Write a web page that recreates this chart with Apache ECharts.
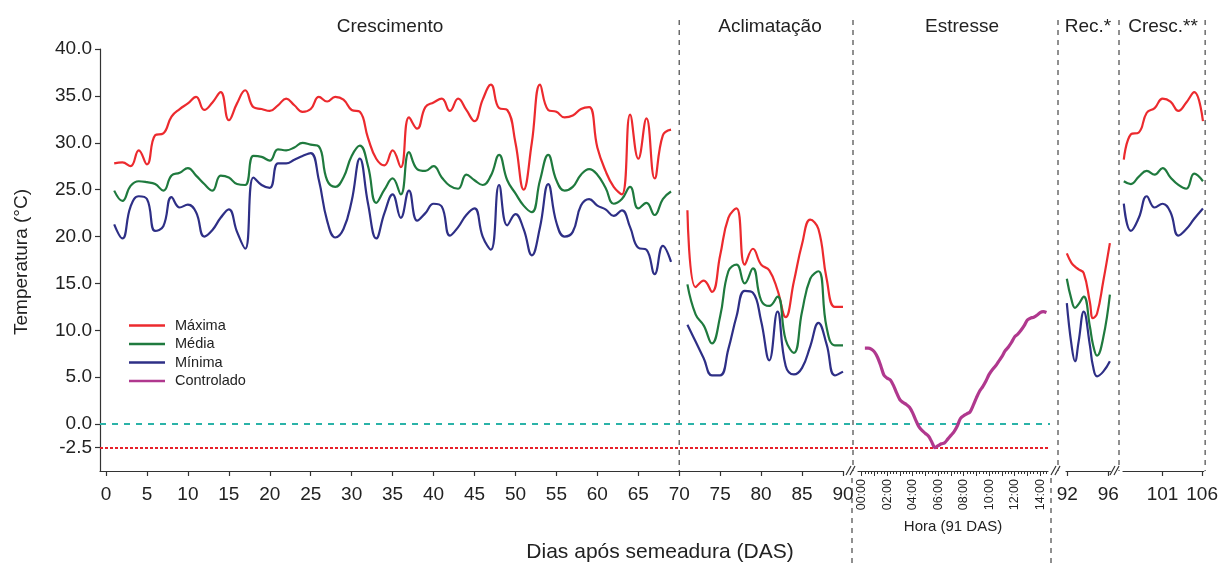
<!DOCTYPE html>
<html><head><meta charset="utf-8">
<script src="https://cdn.jsdelivr.net/npm/echarts@6/dist/echarts.min.js"></script>
<style>html,body{margin:0;padding:0;background:#fff}#c{width:1221px;height:569px}</style>
</head><body><div id="c"></div>
<script>
const FONT = '"Liberation Sans", Arial, Helvetica, sans-serif';

// ---------------- DATA ----------------
// Crescimento (days 1..69)
const cresDays = Array.from({length: 69}, (_, i) => i + 1);
const maxCres = [27.8,27.9,27.5,29.2,27.7,30.8,31.0,32.8,33.6,34.2,
                 34.9,33.5,34.3,35.4,32.4,34.2,35.6,33.8,33.6,33.4,
                 34.0,34.7,34.0,33.3,33.6,34.9,34.4,34.9,34.6,33.5,
                 33.3,30.5,28.3,27.6,29.2,27.4,32.7,31.5,33.8,34.3,
                 34.7,33.4,34.7,33.5,32.3,34.6,36.2,33.7,33.5,30.0,
                 25.0,30.0,36.2,33.5,33.3,32.7,32.9,33.6,33.8,29.5,
                 27.0,25.3,24.5,33.0,28.3,32.6,26.2,30.8,31.4];
const medCres = [24.9,23.8,25.4,25.9,25.8,25.6,24.9,26.5,26.8,27.3,
                 26.5,25.6,24.9,26.5,26.3,25.6,25.5,28.6,28.5,28.1,
                 29.3,29.2,29.5,30.0,29.8,29.6,26.0,25.3,26.3,28.6,
                 29.7,27.5,23.6,25.0,26.2,24.5,29.0,27.2,27.0,27.5,
                 26.3,25.4,25.1,26.6,26.0,25.5,26.5,28.7,26.0,24.6,
                 23.3,22.6,26.0,28.7,26.0,24.9,25.3,26.6,27.2,26.6,
                 25.2,23.5,24.0,25.3,23.0,23.6,22.3,24.0,24.8];
const minCres = [21.3,19.8,23.2,24.3,24.0,20.6,21.1,24.2,23.1,23.4,
                 22.6,20.0,20.7,22.0,22.9,20.5,18.7,26.3,25.5,25.2,
                 27.8,27.8,28.2,28.6,28.9,26.0,21.7,19.9,20.8,23.8,
                 28.3,23.5,19.8,22.5,24.5,22.0,24.9,21.7,22.5,23.5,
                 23.2,20.1,21.0,22.3,23.0,20.0,18.6,25.5,21.2,22.4,
                 20.8,18.0,21.0,25.6,21.5,20.0,20.5,23.3,24.0,23.3,
                 22.9,22.2,22.8,21.0,18.8,18.6,16.0,19.0,17.3];
// Aclimatação (days 71..90)
const aclDays = Array.from({length: 20}, (_, i) => i + 71);
const maxAcl = [22.8,14.6,15.3,14.1,18.0,22.0,23.0,17.0,18.7,17.0,
                16.4,14.3,11.4,15.2,19.2,21.8,20.8,15.5,12.5,12.5];
const medAcl = [14.9,11.7,10.5,8.6,11.5,16.3,17.0,15.0,16.6,13.2,
                12.6,13.6,9.0,7.6,12.0,15.5,16.3,10.3,8.4,8.4];
const minAcl = [10.6,8.8,7.0,5.2,5.2,8.0,11.5,14.2,14.0,11.0,
                6.8,12.0,6.2,5.3,6.0,8.3,10.8,8.5,5.2,5.6];
// Estresse (hours of day 91, every 15 min)
const stressHours = Array.from({length: 58}, (_, i) => 0.25 + i * 0.25);
const controlado = [8.1,8.1,8.0,7.7,7.1,6.2,5.2,4.9,4.7,4.1,
                    3.3,2.6,2.3,2.1,1.8,1.2,0.4,-0.3,-0.7,-1.0,
                    -1.3,-1.9,-2.5,-2.3,-2.1,-2.0,-1.6,-1.2,-0.8,-0.2,
                    0.6,0.9,1.1,1.3,2.0,2.8,3.5,4.0,4.6,5.3,
                    5.8,6.2,6.7,7.2,7.8,8.2,8.7,9.3,9.6,10.0,
                    10.5,11.1,11.3,11.4,11.6,11.9,12.0,11.9];
// Recuperação (days 92..96)
const recDays = [91.95,92.4,92.75,93.1,93.6,94.2,94.5,94.9,95.5,96.15];
const maxRec = [18.2,17.2,16.8,16.5,16.1,13.0,11.3,11.8,15.2,19.3];
const medRec = [15.5,13.3,12.4,12.8,13.6,10.4,8.5,7.3,9.2,13.8];
const minRec = [12.9,8.5,6.7,8.8,12.0,8.4,6.2,5.1,5.6,6.7];
// Crescimento após recuperação (days 96..106)
const cres2Days = [96.1,97,98,99,100,101,102,103,104,105,106.1];
const maxCres2 = [28.2,30.9,31.1,33.2,33.7,34.7,34.4,33.4,34.3,35.4,32.3];
const medCres2 = [25.9,25.6,26.4,27.0,26.6,27.3,26.3,25.5,25.1,26.7,25.9];
const minCres2 = [23.5,20.6,22.0,24.3,23.1,23.5,22.6,20.1,20.8,21.9,23.0];
// reference lines
const refZero = 0.0;
const refLimit = -2.5;

// tick labels
const yTicks = [-2.5,0,5,10,15,20,25,30,35,40];
const dayTicks = [0,5,10,15,20,25,30,35,40,45,50,55,60,65,70,75,80,85,90];
const hourTicks = [0,1,2,3,4,5,6,7,8,9,10,11,12,13,14];
const hourLabels = [0,2,4,6,8,10,12,14];
const recTicks = [92,96];
const cres2Ticks = [101,106];
const sections = ['Crescimento','Aclimatação','Estresse','Rec.*','Cresc.**'];

// ---------------- STYLE ----------------
const C_MAX = '#EC2A2E', C_MED = '#1F7A3E', C_MIN = '#2E2F86', C_CTL = '#B0388E';
const AX = '#333';
const Y_TOP = 49, Y_H = 422;

const chart = echarts.init(document.getElementById('c'));

function pairs(xs, ys) { return xs.map((x, i) => [x, ys[i]]); }
function hiddenY(g) { return {type:'value', gridIndex:g, min:-5, max:40, show:false}; }
function lineSeries(name, color, xi, yi, data, w) {
  return {type:'line', name, xAxisIndex:xi, yAxisIndex:yi, data, symbol:'none',
    smooth:0.45, clip:false, connectNulls:false, z:5,
    lineStyle:{color, width:w || 2.2}, itemStyle:{color}, emphasis:{disabled:true}};
}
const tickLbl = {fontFamily:FONT, fontSize:19, color:'#222'};
function dayAxis(g, min, max, ticks) {
  return {type:'value', gridIndex:g, min, max, position:'bottom',
    axisLine:{show:true, onZero:false, lineStyle:{color:AX, width:1.2}},
    axisTick:{show:true, length:5, customValues:ticks, lineStyle:{color:AX, width:1.2}},
    axisLabel:Object.assign({customValues:ticks, margin:14}, tickLbl),
    splitLine:{show:false}};
}

const option = {
  animation:false,
  backgroundColor:'#fff',
  grid:[
    {left:100, top:Y_TOP, width:743, height:Y_H},
    {left:858, top:Y_TOP, width:190, height:Y_H},
    {left:1066, top:Y_TOP, width:44.4, height:Y_H},
    {left:1123, top:Y_TOP, width:82, height:Y_H},
    {left:100, top:Y_TOP, width:950, height:Y_H}
  ],
  xAxis:[
    dayAxis(0, -0.733, 90, dayTicks),
    {type:'value', gridIndex:1, min:-0.29, max:14.62, position:'bottom',
      axisLine:{show:true, onZero:false, lineStyle:{color:AX, width:1.2}},
      axisTick:{show:true, length:5, customValues:hourTicks, lineStyle:{color:AX, width:1}},
      axisLabel:{customValues:hourLabels, rotate:90, margin:8, fontFamily:FONT, fontSize:12.5, color:'#222',
        formatter:v => (v < 10 ? '0' : '') + v + ':00'},
      splitLine:{show:false},
      name:'Hora (91 DAS)', nameLocation:'middle', nameGap:48,
      nameTextStyle:{fontFamily:FONT, fontSize:15, color:'#222'}},
    {type:'value', gridIndex:1, min:-0.29, max:14.62, position:'bottom', offset:0,
      axisLine:{show:false, onZero:false},
      axisTick:{show:true, length:3, customValues:stressHours.concat([0]), lineStyle:{color:AX, width:1}},
      axisLabel:{show:false}, splitLine:{show:false}},
    dayAxis(2, 91.87, 96.2, recTicks),
    dayAxis(3, 96, 106.2, cres2Ticks),
    {type:'value', gridIndex:4, min:0, max:1, show:false}
  ],
  yAxis:[
    {type:'value', gridIndex:0, min:-5, max:40,
      axisLine:{show:true, onZero:false, lineStyle:{color:AX, width:1.2}},
      axisTick:{show:true, length:5, customValues:yTicks, lineStyle:{color:AX, width:1.2}},
      axisLabel:Object.assign({customValues:yTicks, margin:8, formatter:v => v.toFixed(1)}, tickLbl),
      splitLine:{show:false}},
    hiddenY(1), hiddenY(2), hiddenY(3), hiddenY(4)
  ],
  legend:{
    orient:'vertical', left:124, top:313, itemWidth:36, itemHeight:2.6, itemGap:3.5, icon:'rect',
    textStyle:{fontFamily:FONT, fontSize:14.5, color:'#222', lineHeight:15, padding:[0,0,0,5]},
    data:['Máxima','Média','Mínima','Controlado']
  },
  series:[
    lineSeries('Máxima', C_MAX, 0, 0, pairs(cresDays, maxCres).concat([[70,'-']], pairs(aclDays, maxAcl))),
    lineSeries('Média', C_MED, 0, 0, pairs(cresDays, medCres).concat([[70,'-']], pairs(aclDays, medAcl))),
    lineSeries('Mínima', C_MIN, 0, 0, pairs(cresDays, minCres).concat([[70,'-']], pairs(aclDays, minAcl))),
    Object.assign(lineSeries('Controlado', C_CTL, 1, 1, pairs(stressHours, controlado), 3.2), {smooth:0.3}),
    lineSeries('Máxima', C_MAX, 3, 2, pairs(recDays, maxRec)),
    lineSeries('Média', C_MED, 3, 2, pairs(recDays, medRec)),
    lineSeries('Mínima', C_MIN, 3, 2, pairs(recDays, minRec)),
    lineSeries('Máxima', C_MAX, 4, 3, pairs(cres2Days, maxCres2)),
    lineSeries('Média', C_MED, 4, 3, pairs(cres2Days, medCres2)),
    lineSeries('Mínima', C_MIN, 4, 3, pairs(cres2Days, minCres2)),
    {type:'line', xAxisIndex:5, yAxisIndex:4, data:[], z:2, silent:true,
      markLine:{symbol:'none', silent:true, label:{show:false}, animation:false,
        data:[
          {yAxis:refZero, lineStyle:{color:'#2BB3A8', type:[6,6], width:2}},
          {yAxis:refLimit, lineStyle:{color:'#E8202A', type:[3,2], width:2}}
        ]}}
  ]
};
chart.setOption(option);

// ---------------- ANNOTATIONS ----------------
const x70 = chart.convertToPixel({xAxisIndex:0}, 70);
const x106 = chart.convertToPixel({xAxisIndex:4}, 106);
const dash = {stroke:'#555', lineWidth:1.3, lineDash:[5,5]};
function vline(x, y1, y2) { return {type:'line', shape:{x1:x, y1, x2:x, y2}, style:dash, silent:true, z:1}; }
function brk(x) {
  return [
    {type:'line', shape:{x1:x, y1:475, x2:x + 5, y2:466}, style:{stroke:AX, lineWidth:1.2}, z:10},
    {type:'line', shape:{x1:x + 4, y1:475, x2:x + 9, y2:466}, style:{stroke:AX, lineWidth:1.2}, z:10}
  ];
}
function txt(t, x, y, size, rot) {
  return {type:'text', x, y, rotation:rot || 0, silent:true,
    style:{text:t, fontFamily:FONT, fontSize:size, fill:'#222', align:'center', verticalAlign:'middle'}};
}
const graphics = [
  vline(x70, 20, 471), vline(853, 20, 471), vline(1058, 20, 471), vline(1119, 20, 471), vline(x106 + 3, 20, 471),
  vline(852, 478, 567), vline(1051, 478, 567),
  ...brk(846), ...brk(1051), ...brk(1110),
  txt(sections[0], 390, 27, 19), txt(sections[1], 770, 27, 19), txt(sections[2], 962, 27, 19),
  txt(sections[3], 1088, 27, 19), txt(sections[4], 1163, 27, 19),
  txt('Temperatura (°C)', 22, 262, 19, Math.PI / 2),
  txt('Dias após semeadura (DAS)', 660, 552, 21)
];
chart.setOption({graphic:graphics});
</script></body></html>
